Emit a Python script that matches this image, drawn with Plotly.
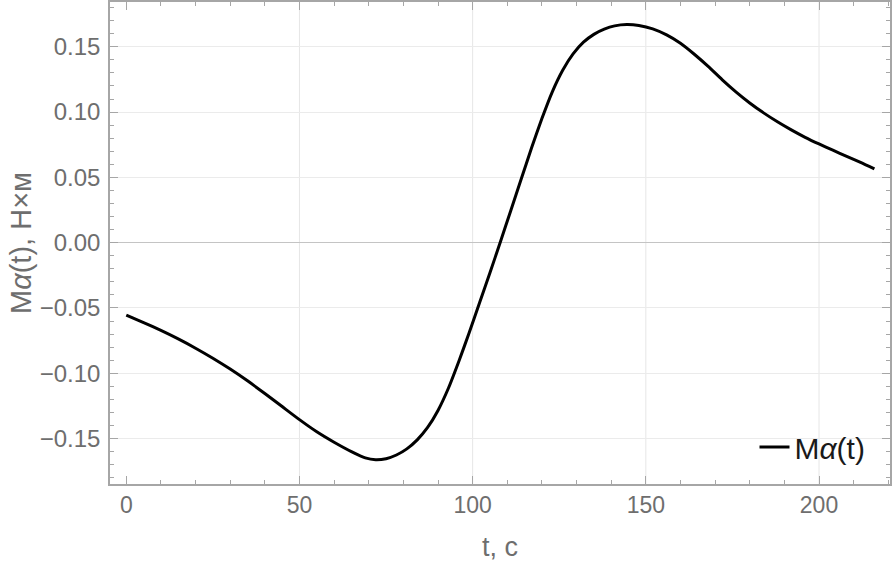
import plotly.graph_objects as go

# data
t = [0, 5, 10, 15, 20, 25, 30, 35, 40, 45, 50, 55, 60, 65, 69, 72,
     75, 78, 81, 84, 87, 90, 93, 96, 99, 102, 105, 108,
     111, 114, 117, 120, 123, 126, 129, 132, 135, 138, 141, 144.5,
     148, 152, 156, 160, 164, 168, 172, 176, 180, 184, 188, 192, 196, 200,
     204, 208, 212, 216]
m = [-0.0555, -0.0612, -0.0672, -0.0737, -0.0808, -0.0885, -0.0968, -0.1058, -0.1155,
     -0.1255, -0.1355, -0.1448, -0.1528, -0.1600, -0.1648, -0.1662,
     -0.1654, -0.1626, -0.1579, -0.1510, -0.1415, -0.1285, -0.1115, -0.0910, -0.0690,
     -0.0460, -0.0230, 0.0005,
     0.0245, 0.0485, 0.0725, 0.0950, 0.1155, 0.1320, 0.1445, 0.1535, 0.1595, 0.1635,
     0.1660, 0.1670,
     0.1663, 0.1637, 0.1591, 0.1527, 0.1443, 0.1350, 0.1249, 0.1155, 0.1070, 0.0994,
     0.0926, 0.0864, 0.0807, 0.0756, 0.0708, 0.0661, 0.0615, 0.0565]

x_ticks = [0, 50, 100, 150, 200]
x_grid = [50, 100, 150, 200]
y_ticks = [-0.15, -0.10, -0.05, 0.0, 0.05, 0.10, 0.15]

FONT = "Liberation Sans, Arial, sans-serif"
LBL = "#6e6e6e"
FRAME = "#a6a6a6"

fig = go.Figure()
fig.add_trace(go.Scatter(
    x=t, y=m, mode="lines", line=dict(color="black", width=3, shape="spline", smoothing=0.5),
    name="M<i>α</i>(t)",
))

for g in x_grid:
    fig.add_shape(type="line", xref="x", yref="paper", x0=g, x1=g, y0=0, y1=1,
                  line=dict(color="#e6e6e6", width=1), layer="below")

fig.update_layout(
    width=893, height=562,
    margin=dict(l=110, r=3, t=2, b=78),
    paper_bgcolor="white", plot_bgcolor="white",
    font=dict(family=FONT, color=LBL, size=22),
    showlegend=True,
    legend=dict(x=0.975, y=0.077, xanchor="right", yanchor="middle",
                bgcolor="rgba(0,0,0,0)", font=dict(size=30, color="#1a1a1a")),
    xaxis=dict(
        range=[-4.7, 220.5], tickvals=x_ticks, ticks="inside", ticklen=8, tickcolor=FRAME,
        showline=True, linecolor=FRAME, linewidth=1.5, mirror="ticks",
        showgrid=False, zeroline=False, automargin=False,
        tickfont=dict(size=23, color=LBL),
        minor=dict(dtick=10, tick0=0, ticks="inside", ticklen=4, tickcolor=FRAME, showgrid=False),
        title=dict(text="t, с", font=dict(size=27, color=LBL), standoff=20),
    ),
    yaxis=dict(
        range=[-0.1848, 0.1843], tickvals=y_ticks, tickformat=".2f",
        ticks="inside", ticklen=8, tickcolor=FRAME, ticklabelstandoff=3,
        showline=True, linecolor=FRAME, linewidth=1.5, mirror="ticks",
        showgrid=True, gridcolor="#ebebeb", gridwidth=1,
        zeroline=True, zerolinecolor="#c4c4c4", zerolinewidth=1.2, automargin=False,
        tickfont=dict(size=24, color=LBL),
        minor=dict(dtick=0.01, tick0=0, ticks="inside", ticklen=4, tickcolor=FRAME, showgrid=False),
        title=dict(text="M<i>α</i>(t), Н×м", font=dict(size=29, color=LBL), standoff=0),
    ),
)

fig.write_html("out.html", config={"displayModeBar": False},
               post_script="document.body.style.margin='0';")
